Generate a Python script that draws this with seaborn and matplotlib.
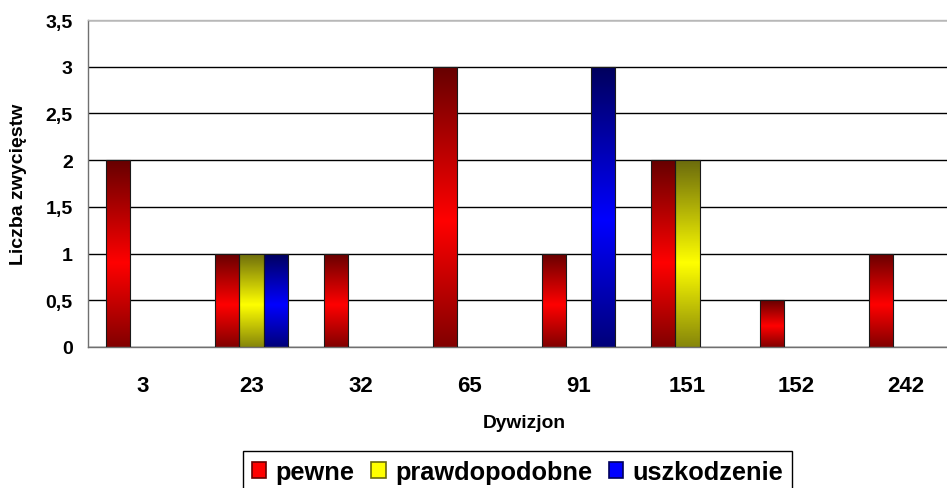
import numpy as np
import pandas as pd
import matplotlib
matplotlib.use("Agg")
import matplotlib.pyplot as plt
from matplotlib.patches import Patch
import seaborn as sns

# Victories per squadron
dywizjony = ["3", "23", "32", "65", "91", "151", "152", "242"]
pewne = [2, 1, 1, 3, 1, 2, 0.5, 1]
prawdopodobne = [None, 1, None, None, None, 2, None, None]
uszkodzenie = [None, 1, None, None, 3, None, None, None]
serie = ["pewne", "prawdopodobne", "uszkodzenie"]
y_ticks = [0, 0.5, 1, 1.5, 2, 2.5, 3, 3.5]
y_labels = ["0", "0,5", "1", "1,5", "2", "2,5", "3", "3,5"]

rows = []
for nazwa, wartosci in zip(serie, [pewne, prawdopodobne, uszkodzenie]):
    for d, v in zip(dywizjony, wartosci):
        if v is not None:
            rows.append({"Dywizjon": d, "Liczba": v, "Rodzaj": nazwa})
df = pd.DataFrame(rows)

# bright / dark tones for the two-colour bar gradient
bright = {"pewne": (1.0, 0.0, 0.0), "prawdopodobne": (1.0, 1.0, 0.0), "uszkodzenie": (0.0, 0.0, 1.0)}
dark = {"pewne": (0.40, 0.0, 0.0), "prawdopodobne": (0.42, 0.42, 0.05), "uszkodzenie": (0.0, 0.0, 0.36)}

sns.set_style("white")
plt.rcParams["font.family"] = ["Liberation Sans", "DejaVu Sans"]
plt.rcParams["font.weight"] = "bold"
plt.rcParams["text.color"] = "black"
plt.rcParams["axes.labelcolor"] = "black"

fig = plt.figure(figsize=(9.47, 4.89), dpi=100)
ax = fig.add_axes([88 / 947, 1 - 348 / 489, 872 / 947, (348 - 21) / 489])

sns.barplot(data=df, x="Dywizjon", y="Liczba", hue="Rodzaj",
            order=dywizjony, hue_order=serie,
            palette=[bright[s] for s in serie], saturation=1,
            width=2 / 3, errorbar=None, legend=False, ax=ax)

# replace flat fills with a vertical dark-bright-dark gradient
t = np.linspace(0, 1, 256)
profile = np.clip(1 - np.abs(t - 0.45) / 0.55, 0, 1)
for patch in ax.patches:
    h = patch.get_height()
    if not np.isfinite(h) or h <= 0:
        continue
    fc = tuple(patch.get_facecolor()[:3])
    key = min(bright, key=lambda k: np.sum((np.array(bright[k]) - np.array(fc)) ** 2))
    b = np.array(bright[key]); d = np.array(dark[key])
    grad = d[None, :] + (b - d)[None, :] * profile[:, None]
    x0 = patch.get_x(); w = patch.get_width(); y0 = patch.get_y()
    im = ax.imshow(grad[:, None, :], extent=[x0, x0 + w, y0, y0 + h],
                   origin="lower", aspect="auto", zorder=2, interpolation="bilinear")
    im.set_clip_path(patch)
    patch.set_facecolor("none")
    patch.set_edgecolor("#1a1a1a")
    patch.set_linewidth(0.8)
    patch.set_zorder(3)

ax.set_xlim(-0.5, len(dywizjony) - 0.5)
ax.set_ylim(0, 3.5)
ax.set_yticks(y_ticks)
ax.set_yticklabels(y_labels)
ax.yaxis.grid(True, color="black", linewidth=1)
ax.set_axisbelow(True)

ax.set_xticks(np.arange(-0.5, len(dywizjony)), minor=True)
ax.tick_params(axis="x", which="major", length=0, pad=20, labelsize=16, labelcolor="black")
ax.tick_params(axis="x", which="minor", length=6, width=1, color="#606060", direction="out")
ax.tick_params(axis="y", length=5, width=1, color="#606060", direction="out", pad=6,
               labelsize=14, labelcolor="black")
for lab in ax.get_xticklabels() + ax.get_yticklabels():
    lab.set_fontweight("bold")

for side in ["left", "bottom"]:
    ax.spines[side].set_color("#707070")
    ax.spines[side].set_linewidth(1)
ax.spines["top"].set_color("#b8b8b8")
ax.spines["top"].set_linewidth(1)
ax.spines["right"].set_visible(False)

ax.set_xlabel("Dywizjon", fontsize=13.8, fontweight="bold", labelpad=13, color="black")
ax.set_ylabel("Liczba zwycięstw", fontsize=14, fontweight="bold", color="black")
ax.yaxis.set_label_coords(-0.070, 0.5)

handles = [Patch(facecolor=bright[s], edgecolor=dark[s], linewidth=1.2, label=s) for s in serie]
leg = fig.legend(handles=handles, loc="upper left", bbox_to_anchor=(243 / 947, 1 - 452 / 489),
                 ncol=3, frameon=True, fancybox=False, edgecolor="black", framealpha=1,
                 handlelength=0.56, handleheight=0.56, handletextpad=0.38,
                 columnspacing=0.65, borderaxespad=0, borderpad=0.35,
                 prop={"weight": "bold", "size": 18.3})
leg.get_frame().set_linewidth(1)
for txt in leg.get_texts():
    txt.set_color("black")

fig.savefig("out.png", dpi=100)
